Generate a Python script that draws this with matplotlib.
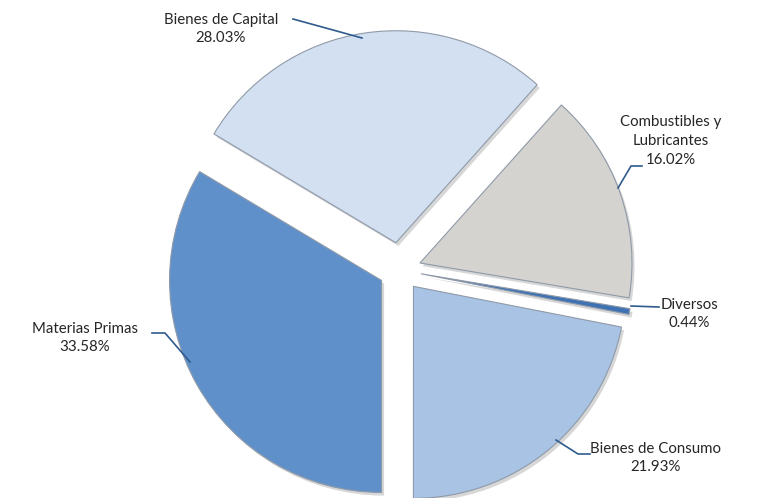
import matplotlib.pyplot as plt

# --- DATA ---
labels = ["Bienes de Capital", "Combustibles y\nLubricantes", "Diversos",
          "Bienes de Consumo", "Materias Primas"]
shares = [28.03, 16.02, 0.44, 21.93, 33.58]
colors = ["#d3e0f2", "#d5d3d0", "#3f72b3", "#a9c3e5", "#6090ca"]
explode = [0.13, 0.10, 0.10, 0.10, 0.10]

# label text centres (pixels, from top-left) and leader points
label_xy = [(221, 29), (671, 141), (689, 314), (656, 458), (85, 338)]
leader = [
    [(293, 19), (362, 38)],
    [(642, 166), (631, 166), (618, 188)],
    [(659, 307), (631, 306)],
    [(590, 454), (578, 454), (556, 440)],
    [(152, 333), (165, 333), (190, 362)],
]

W, H = 759, 498
CX, CY, R = 400, 270, 212


def to_data(px, py):
    return (px - CX) / R, (CY - py) / R


fig = plt.figure(figsize=(W / 100, H / 100), dpi=100)
ax = fig.add_axes([0, 0, 1, 1])

# soft shadow first
ax.pie(shares, colors=["#b0b0b0"] * 5, explode=explode, startangle=149.1,
       counterclock=False, radius=1.0, center=(0.012, -0.015),
       wedgeprops=dict(linewidth=0, alpha=0.5))
ax.pie(shares, colors=colors, explode=explode, startangle=149.1,
       counterclock=False, radius=1.0,
       wedgeprops=dict(linewidth=0.8, edgecolor="#8f9aa8"))

for lab, v, (tx, ty), pts in zip(labels, shares, label_xy, leader):
    x, y = to_data(tx, ty)
    ax.text(x, y, f"{lab}\n{v:.2f}%", ha="center", va="center",
            fontsize=10.8, color="#262626", linespacing=1.45,
            family=['Lato', 'DejaVu Sans'])
    xs, ys = zip(*[to_data(px, py) for px, py in pts])
    ax.plot(xs, ys, color="#2f5b8e", lw=1.2)

ax.set_xlim(-CX / R, (W - CX) / R)
ax.set_ylim(-(H - CY) / R, CY / R)
ax.set_aspect("auto")
ax.axis("off")

fig.savefig("out.png", dpi=100)
